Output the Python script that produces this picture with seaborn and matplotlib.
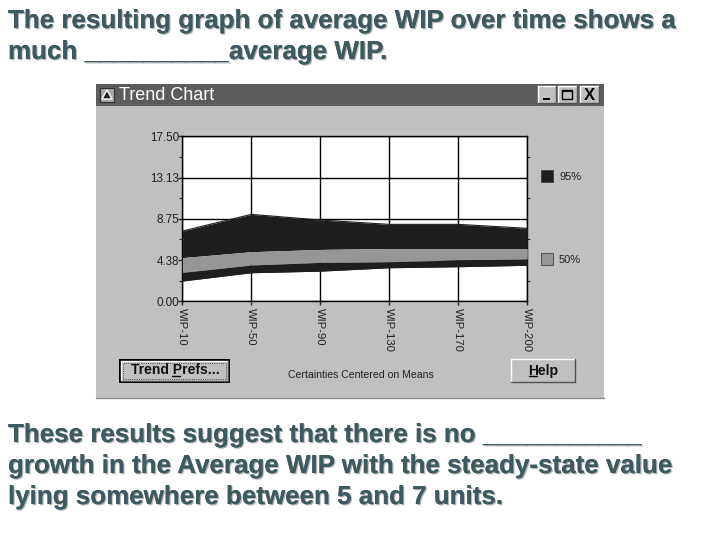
import matplotlib
matplotlib.use('Agg')
import matplotlib.pyplot as plt
import matplotlib.patches as mp
import matplotlib.patheffects as pe
from matplotlib.lines import Line2D
import pandas as pd
import seaborn as sns

# chart values
wip = ['WIP-10', 'WIP-50', 'WIP-90', 'WIP-130', 'WIP-170', 'WIP-200']
upper_95 = [7.45, 9.22, 8.62, 8.16, 8.16, 7.74]
upper_50 = [4.63, 5.26, 5.50, 5.60, 5.60, 5.60]
lower_50 = [3.07, 3.85, 4.13, 4.20, 4.38, 4.49]
lower_95 = [2.15, 3.03, 3.20, 3.56, 3.67, 3.82]
y_ticks = [0, 4.375, 8.75, 13.125, 17.5]
y_labels = ['0.00', '4.38', '8.75', '13.13', '17.50']

top_lines = ['The resulting graph of average WIP over time shows a',
             'much __________average WIP.']
bottom_lines = ['These results suggest that there is no ___________',
                'growth in the Average WIP with the steady-state value',
                'lying somewhere between 5 and 7 units.']

W, H = 720, 540
GRAY = '#c0c0c0'
DARK = '#1e1e1e'
MID = '#969696'
TEXT = '#3c5a60'
SLIDE = 'Liberation Sans'

sns.set_style('white')
plt.rcParams['font.family'] = ['Liberation Sans', 'DejaVu Sans']
fig = plt.figure(figsize=(7.2, 5.4), dpi=100)


def fx(x):
    return x / W


def fy(y):
    return 1 - y / H


def box(x0, y0, x1, y1, face, edge='none', lw=0, z=1, ls='-'):
    r = mp.Rectangle((fx(x0), fy(y1)), (x1 - x0) / W, (y1 - y0) / H, transform=fig.transFigure,
                     facecolor=face, edgecolor=edge, linewidth=lw, linestyle=ls, zorder=z)
    fig.add_artist(r)


def bevel(x0, y0, x1, y1, z=3):
    box(x0, y0, x1, y1, GRAY, z=z)
    fig.add_artist(Line2D([fx(x0), fx(x1)], [fy(y0), fy(y0)], color='white', lw=1, zorder=z + 1))
    fig.add_artist(Line2D([fx(x0), fx(x0)], [fy(y0), fy(y1)], color='white', lw=1, zorder=z + 1))
    fig.add_artist(Line2D([fx(x0), fx(x1)], [fy(y1), fy(y1)], color='#505050', lw=1, zorder=z + 1))
    fig.add_artist(Line2D([fx(x1), fx(x1)], [fy(y0), fy(y1)], color='#505050', lw=1, zorder=z + 1))


# slide text
for lines, ys in [(top_lines, [21, 52]), (bottom_lines, [435, 466, 497])]:
    for s, y in zip(lines, ys):
        fig.text(fx(8), fy(y), s, fontsize=18.7, fontweight='bold', family=SLIDE, color=TEXT, va='center',
                 path_effects=[pe.withSimplePatchShadow(offset=(0.9, -0.9), shadow_rgbFace='#b4b4b4', alpha=1), pe.Normal()])

# window
box(96, 84, 604, 398, GRAY)
box(96, 84, 604, 106, '#5c5c5c', z=2)
fig.add_artist(Line2D([fx(96), fx(604)], [fy(398), fy(398)], color='#8c8c8c', lw=1, zorder=2))
fig.text(fx(119), fy(95.5), 'Trend Chart', fontsize=13, color='white', va='center', zorder=4)

# title bar icon
box(100, 88, 114, 102, '#a8a8a8', edge='#303030', lw=0.8, z=3)
fig.add_artist(mp.Polygon([[fx(102), fy(99)], [fx(107), fy(90)], [fx(112), fy(99)]], closed=True,
                          transform=fig.transFigure, facecolor='#202020', zorder=4))

# window buttons
bevel(538, 86, 556, 103)
bevel(558, 86, 577, 103)
bevel(580, 86, 599, 103)
box(543, 98, 550, 100, 'black', z=5)
box(562, 90, 572, 99, 'none', edge='black', lw=1, z=5)
box(562, 90, 572, 92, 'black', z=5)
fig.text(fx(589.5), fy(95), 'X', fontsize=12, fontweight='bold', color='black', ha='center', va='center', zorder=5)

# plot area
ax = fig.add_axes([fx(182.3), fy(301.3), (527.3 - 182.3) / W, (301.3 - 136.3) / H], zorder=3)
ax.set_facecolor('white')
df = pd.DataFrame({'wip': wip, 'upper_95': upper_95, 'upper_50': upper_50, 'lower_50': lower_50, 'lower_95': lower_95})
pos = list(range(len(wip)))
sns.lineplot(x=pos, y=upper_95, color=DARK, lw=0.8, ax=ax, zorder=3)
sns.lineplot(x=pos, y=lower_95, color=DARK, lw=0.8, ax=ax, zorder=3)
ax.fill_between(pos, df['upper_50'], df['upper_95'], color=DARK, lw=0, zorder=3)
ax.fill_between(pos, df['lower_50'], df['upper_50'], color=MID, lw=0, zorder=3)
ax.fill_between(pos, df['lower_95'], df['lower_50'], color=DARK, lw=0, zorder=3)

ax.set_xlim(0, 5)
ax.set_ylim(0, 17.5)
ax.grid(True, color='black', lw=1)
ax.set_axisbelow(True)
for s in ax.spines.values():
    s.set_color('black')
    s.set_linewidth(1)
ax.set_xticks(pos)
ax.set_xticklabels(wip, rotation=270, fontsize=8.1, color='#202020', ha='center', va='top')
ax.set_yticks(y_ticks)
ax.set_yticklabels(y_labels, fontsize=8.4, color='#202020')
ax.set_yticks([2.1875 * i for i in range(9)], minor=True)
ax.tick_params(axis='y', which='major', left=True, length=3, width=1, pad=-1)
ax.tick_params(axis='y', which='minor', left=True, right=True, length=2, width=0.8)
ax.tick_params(axis='x', bottom=True, length=3, width=1, pad=2)

# legend
box(541, 170, 553, 182, DARK, edge='#404040', lw=0.6, z=3)
fig.text(fx(559), fy(176.5), '95%', fontsize=8, color='#202020', va='center', zorder=4)
box(541, 253, 553, 265, MID, edge='#404040', lw=0.6, z=3)
fig.text(fx(559), fy(259.5), '50%', fontsize=8, color='#202020', va='center', zorder=4)

# bottom row
box(119, 359, 230, 383, 'black', z=2)
bevel(121, 361, 228, 381)
box(123, 363, 226, 379, 'none', edge='#202020', lw=0.6, z=5, ls=':')
fig.text(fx(175), fy(370.5), 'Trend Prefs...', fontsize=10, fontweight='bold', color='#101010', ha='center', va='center', zorder=5)
fig.add_artist(Line2D([fx(172), fx(180)], [fy(376), fy(376)], color='black', lw=1, zorder=6))
fig.text(fx(360.5), fy(375), 'Certainties Centered on Means', fontsize=7.6, color='#202020', ha='center', va='center', zorder=4)
bevel(511, 359, 575, 382)
fig.text(fx(543), fy(370.5), 'Help', fontsize=10, fontweight='bold', color='#101010', ha='center', va='center', zorder=5)
fig.add_artist(Line2D([fx(529), fx(537)], [fy(376), fy(376)], color='black', lw=1, zorder=6))

plt.savefig('out.png', dpi=100)
